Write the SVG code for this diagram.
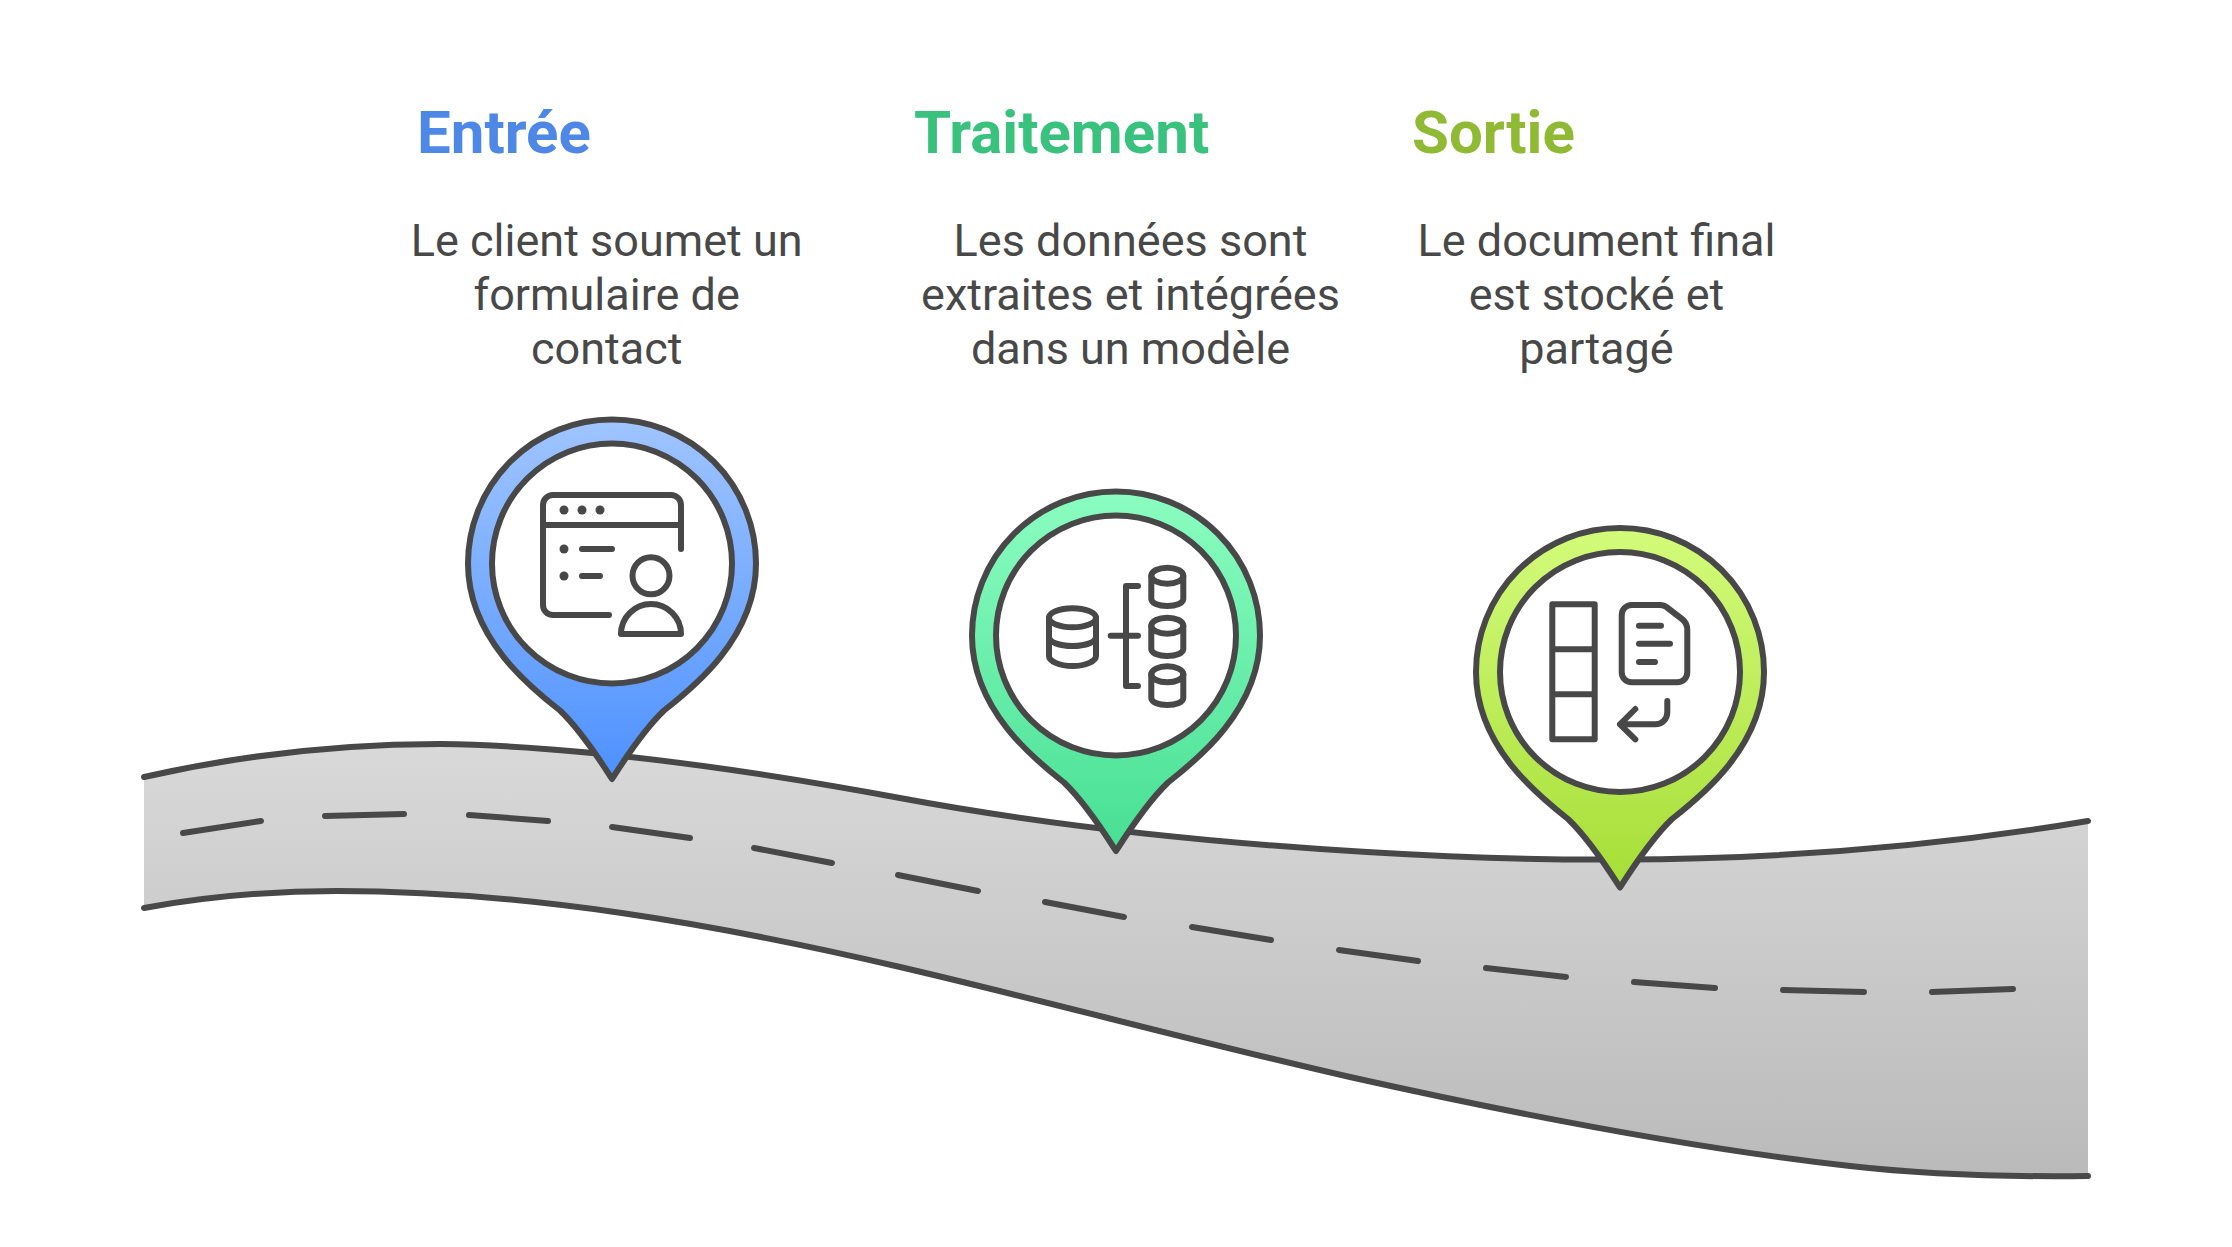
<svg xmlns="http://www.w3.org/2000/svg" width="2232" height="1247" viewBox="0 0 2232 1247">
<style>
.t{font-family:Roboto,"Liberation Sans",sans-serif;font-size:60px;font-weight:700}
.b{font-family:Roboto,"Liberation Sans",sans-serif;font-size:45px;fill:#484848;text-anchor:middle}
.l{fill:none;stroke:#484848;stroke-width:6;stroke-linecap:round;stroke-linejoin:round}
.p{stroke:#484848;stroke-width:6;stroke-linejoin:round}
.w{fill:#fff}
.d{fill:#484848}
</style>
<defs>
<linearGradient id="gr" x1="0" y1="0" x2="0" y2="1"><stop offset="0" stop-color="#d9d9d9"/><stop offset="1" stop-color="#bababa"/></linearGradient>
<linearGradient id="g1" x1="0" y1="0" x2="0" y2="1"><stop offset="0" stop-color="#a0c5ff"/><stop offset="1" stop-color="#4d91ff"/></linearGradient>
<linearGradient id="g2" x1="0" y1="0" x2="0" y2="1"><stop offset="0" stop-color="#8bfdc0"/><stop offset="1" stop-color="#47df94"/></linearGradient>
<linearGradient id="g3" x1="0" y1="0" x2="0" y2="1"><stop offset="0" stop-color="#d3fb7a"/><stop offset="1" stop-color="#a6de37"/></linearGradient>
<path id="pin" d="M0 215.500C-8 203-30 168-52 147C-80 125-144 75-144 0A144 144 0 0 1 144 0C144 75 80 125 52 147C30 168 8 203 0 215.500Z"/>
</defs>
<g id="road">
<path fill="url(#gr)" d="M144 777C250 753 345 744 440 744C590 746 760 772 900 798C1050 826 1200 842 1367 852C1450 857 1540 860 1620 859.5C1780 859 1940 846 2088 821V1176C2010 1177 1930 1175 1850 1166C1690 1148 1520 1115 1350 1077C1200 1043 1050 1002 900 967C720 925 530 891 337 891C275 891 215 895 144 908Z"/>
</g>
<g id="connectors">
<path class="l" d="M144 777C250 753 345 744 440 744C590 746 760 772 900 798C1050 826 1200 842 1367 852C1450 857 1540 860 1620 859.5C1780 859 1940 846 2088 821"/>
<path class="l" d="M144 908C215 895 275 891 337 891C530 891 720 925 900 967C1050 1002 1200 1043 1350 1077C1520 1115 1690 1148 1850 1166C1930 1175 2010 1177 2088 1176"/>
<path class="l" d="M183 833L261 821M325 816L404 814M469 815L548 821M612 827L690 838M754 848L832 863M898 875L978 891M1045 902L1124 917M1192 927L1271 940M1339 950L1418 961M1486 968L1566 977M1634 982L1715 988M1783 990L1864 992M1932 992L2013 989"/>
</g>
<g id="entree">
<text class="t" x="417" y="152.500" fill="#4e88e7">Entrée</text>
<text class="b" x="606.7" y="256">Le client soumet un</text>
<text class="b" x="606.7" y="310">formulaire de</text>
<text class="b" x="606.7" y="364">contact</text>
<use href="#pin" x="612" y="563.5" fill="url(#g1)" class="p"/>
<circle class="p w" cx="612" cy="563.5" r="120"/>
<path class="l" d="M681 549V505A10 10 0 0 0 671 495H553A10 10 0 0 0 543 505V605A10 10 0 0 0 553 615H609M543 525H681M582 549H612M582 576H600"/>
<circle class="l" cx="651" cy="575.7" r="18.500"/>
<path class="l" d="M621 634A30 30 0 0 1 681 634Z"/>
<g class="d"><circle cx="564" cy="510" r="4.500"/><circle cx="582" cy="510" r="4.500"/><circle cx="600" cy="510" r="4.500"/><circle cx="564" cy="549" r="4.500"/><circle cx="564" cy="576" r="4.500"/></g>
</g>
<g id="traitement">
<text class="t" x="914" y="152.500" fill="#38c27d">Traitement</text>
<text class="b" x="1130.500" y="256">Les données sont</text>
<text class="b" x="1130.500" y="310">extraites et intégrées</text>
<text class="b" x="1130.500" y="364">dans un modèle</text>
<use href="#pin" x="1116" y="635.5" fill="url(#g2)" class="p"/>
<circle class="p w" cx="1116" cy="635.5" r="120"/>
<ellipse class="l" cx="1072.5" cy="617.7" rx="23.500" ry="9.500"/>
<path class="l" d="M1049 618V656C1049 661 1059 666 1072.5 666S1096 661 1096 656V618M1049 637C1049 642 1059 646 1072.5 646S1096 642 1096 637M1138 586H1126V686H1138M1110.7 635.7H1138"/>
<ellipse class="l" cx="1167.3" cy="575.7" rx="16" ry="8"/>
<path class="l" d="M1151.3 576V599C1151.3 603 1158 606 1167.3 606S1183.3 603 1183.3 599V576"/>
<ellipse class="l" cx="1167.3" cy="625.7" rx="16" ry="8"/>
<path class="l" d="M1151.3 626V649C1151.3 653 1158 656 1167.3 656S1183.3 653 1183.3 649V626"/>
<ellipse class="l" cx="1167.3" cy="674.3" rx="16" ry="8"/>
<path class="l" d="M1151.3 674V698C1151.3 702 1158 705 1167.3 705S1183.3 702 1183.3 698V674"/>
</g>
<g id="sortie">
<text class="t" x="1412" y="152.500" fill="#90b934">Sortie</text>
<text class="b" x="1596.500" y="256">Le document final</text>
<text class="b" x="1596.500" y="310">est stocké et</text>
<text class="b" x="1596.500" y="364">partagé</text>
<use href="#pin" x="1620" y="672" fill="url(#g3)" class="p"/>
<circle class="p w" cx="1620" cy="672" r="120"/>
<path class="l" d="M1552.3 604.3H1594.7V739.3H1552.3ZM1552.3 649.3H1594.7M1552.3 694.3H1594.7"/>
<path class="l" d="M1631.7 605H1660Q1664 605 1667 607.5L1682 619Q1687.3 623 1687.3 630V672A10 10 0 0 1 1677 682.3H1632A10 10 0 0 1 1621.7 672V615A10 10 0 0 1 1631.7 605ZM1639 625.7H1661M1639 643.7H1670M1639 662H1655M1667.3 701V712A12 12 0 0 1 1655 724.3H1620M1635.3 709L1620 724.3L1635.3 739.3"/>
</g>
</svg>
